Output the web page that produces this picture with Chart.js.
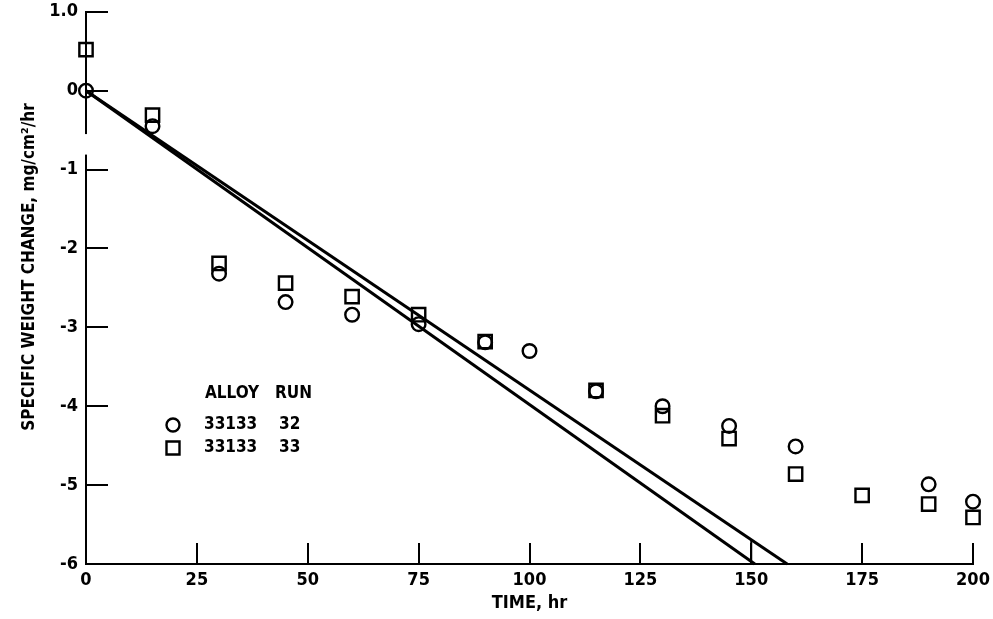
<!DOCTYPE html>
<html>
<head>
<meta charset="utf-8">
<script src="https://cdn.jsdelivr.net/npm/chart.js@4.4.1/dist/chart.umd.min.js"></script>
<style>
html,body{margin:0;padding:0;background:#fff;}
#wrap{width:993px;height:619px;}
</style>
</head>
<body>
<div id="wrap"><canvas id="c" width="993" height="619"></canvas></div>
<script>
// ---- data ----
const times32 = [0, 15, 30, 45, 60, 75, 90, 100, 115, 130, 145, 160, 190, 200];
const run32   = [0, -0.45, -2.32, -2.68, -2.84, -2.96, -3.19, -3.30, -3.81, -4.00, -4.25, -4.51, -4.99, -5.21];
const times33 = [0, 15, 30, 45, 60, 75, 90, 115, 130, 145, 160, 175, 190, 200];
const run33   = [0.52, -0.31, -2.19, -2.44, -2.61, -2.84, -3.18, -3.80, -4.12, -4.41, -4.86, -5.13, -5.24, -5.41];
const fitTimesA = [0, 150.8];
const fitA      = [0, -6];
const fitTimesB = [0, 158.1];
const fitB      = [0, -6];
const markTimes = [150, 150];
const markVals  = [-6, -5.69];
const xTickValues = [0, 25, 50, 75, 100, 125, 150, 175, 200];
const yTickValues = [1, 0, -1, -2, -3, -4, -5, -6];
const yTickLabels = ['1.0', '0', '-1', '-2', '-3', '-4', '-5', '-6'];
const legendHeader = ['ALLOY', 'RUN'];
const legendRows = [['33133', '32'], ['33133', '33']];
const xTitle = 'TIME, hr';
const yTitle = 'SPECIFIC WEIGHT CHANGE, mg/cm\u00B2/hr';

const FONT = '"Liberation Sans Narrow", "DejaVu Sans Condensed", sans-serif';
const zip = (xs, ys) => xs.map((x, i) => ({x: x, y: ys[i]}));

const axisPlugin = {
  id: 'axisExtras',
  afterDraw(chart) {
    const ctx = chart.ctx;
    const xs = chart.scales.x, ys = chart.scales.y;
    const left = xs.getPixelForValue(0), bottom = ys.getPixelForValue(-6);
    ctx.save();
    ctx.strokeStyle = '#000';
    ctx.lineWidth = 2;
    // inward ticks on y axis
    yTickValues.forEach(v => {
      if (v === -6) return;
      const py = Math.round(ys.getPixelForValue(v));
      ctx.beginPath(); ctx.moveTo(left, py); ctx.lineTo(left + 22, py); ctx.stroke();
    });
    // inward ticks on x axis
    xTickValues.forEach(v => {
      if (v === 0) return;
      const px = Math.round(xs.getPixelForValue(v));
      ctx.beginPath(); ctx.moveTo(px, bottom); ctx.lineTo(px, bottom - 21); ctx.stroke();
    });
    // break in the y axis line
    ctx.fillStyle = '#fff';
    ctx.fillRect(left - 3, ys.getPixelForValue(-0.55), 6, ys.getPixelForValue(-0.81) - ys.getPixelForValue(-0.55));
    // y axis title
    ctx.fillStyle = '#000';
    ctx.font = 'bold 17px ' + FONT;
    ctx.textAlign = 'center';
    ctx.textBaseline = 'middle';
    ctx.translate(30, 267);
    ctx.rotate(-Math.PI / 2);
    ctx.fillText(yTitle, 0, 0);
    ctx.restore();

    // legend
    ctx.save();
    ctx.fillStyle = '#000';
    ctx.strokeStyle = '#000';
    ctx.font = 'bold 17px ' + FONT;
    ctx.textBaseline = 'middle';
    ctx.textAlign = 'left';
    ctx.fillText(legendHeader[0], 205, 394);
    ctx.fillText(legendHeader[1], 275, 394);
    const rowY = [425, 448];
    legendRows.forEach((r, i) => {
      ctx.fillText(r[0], 204, rowY[i]);
      ctx.fillText(r[1], 279, rowY[i]);
    });
    ctx.lineWidth = 2.4;
    ctx.beginPath(); ctx.arc(173, rowY[0], 6.5, 0, Math.PI * 2); ctx.stroke();
    ctx.beginPath(); ctx.rect(166.5, rowY[1] - 6.5, 13, 13); ctx.stroke();
    ctx.restore();
  }
};

new Chart(document.getElementById('c'), {
  type: 'scatter',
  data: {
    datasets: [
      {label: 'fitA', data: zip(fitTimesA, fitA), showLine: true, borderColor: '#000', borderWidth: 3, pointRadius: 0, clip: false},
      {label: 'fitB', data: zip(fitTimesB, fitB), showLine: true, borderColor: '#000', borderWidth: 3, pointRadius: 0, clip: false},
      {label: 'mark', data: zip(markTimes, markVals), showLine: true, borderColor: '#000', borderWidth: 2, pointRadius: 0, clip: false},
      {label: '33133 run 32', data: zip(times32, run32), pointStyle: 'circle', pointRadius: 6.8, borderWidth: 2.4,
        borderColor: '#000', backgroundColor: 'rgba(0,0,0,0)', pointBackgroundColor: 'rgba(0,0,0,0)', clip: false},
      {label: '33133 run 33', data: zip(times33, run33), pointStyle: 'rect', pointRadius: 9.4, borderWidth: 2.4,
        borderColor: '#000', backgroundColor: 'rgba(0,0,0,0)', pointBackgroundColor: 'rgba(0,0,0,0)', clip: false}
    ]
  },
  options: {
    responsive: false,
    devicePixelRatio: 1,
    animation: false,
    layout: {padding: {top: 11, right: 20, left: 0, bottom: 0}},
    plugins: {legend: {display: false}, tooltip: {enabled: false}},
    scales: {
      x: {
        type: 'linear', min: 0, max: 200,
        afterFit(s) { s.height = 55; s.paddingLeft = 0; s.paddingRight = 0; },
        afterBuildTicks(s) { s.ticks = xTickValues.map(v => ({value: v})); },
        grid: {display: false, drawTicks: false},
        border: {display: true, color: '#000', width: 2},
        ticks: {color: '#000', padding: 6, maxRotation: 0, autoSkip: false,
          font: {family: FONT, size: 18, weight: 'bold'}},
        title: {display: true, text: xTitle, color: '#000', padding: {top: 0, bottom: 5},
          font: {family: FONT, size: 18, weight: 'bold'}}
      },
      y: {
        type: 'linear', min: -6, max: 1,
        afterFit(s) { s.width = 86; s.paddingTop = 0; s.paddingBottom = 0; },
        afterBuildTicks(s) { s.ticks = yTickValues.map(v => ({value: v})); },
        grid: {display: false, drawTicks: false},
        border: {display: true, color: '#000', width: 2},
        ticks: {color: '#000', padding: 8, autoSkip: false,
          callback: (v) => { const i = yTickValues.indexOf(v); return i >= 0 ? yTickLabels[i] : ''; },
          font: {family: FONT, size: 18, weight: 'bold'}}
      }
    }
  },
  plugins: [axisPlugin]
});
</script>
</body>
</html>
